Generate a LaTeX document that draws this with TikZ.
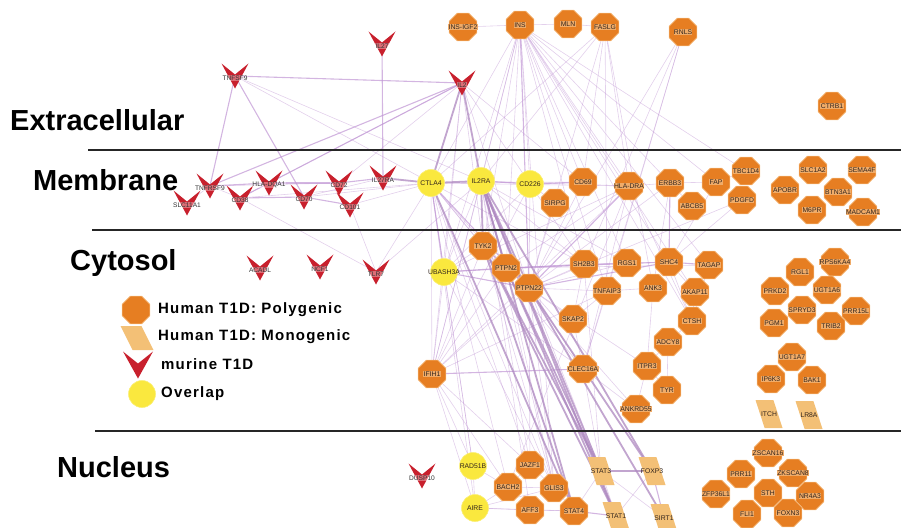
\documentclass[tikz,border=0pt]{standalone}
\usepackage{fontspec}
\newfontfamily\lblfont{Liberation Sans}
\newfontfamily\headfont{Liberation Sans}
\newfontfamily\legfont{Liberation Sans}[LetterSpace=8]
\usetikzlibrary{shapes.geometric,backgrounds}

\definecolor{polyc}{RGB}{230,126,34}
\definecolor{polyedge}{RGB}{246,190,130}
\definecolor{polylbl}{RGB}{240,172,105}
\definecolor{monoc}{RGB}{243,192,118}
\definecolor{murc}{RGB}{200,32,45}
\definecolor{ovlc}{RGB}{250,232,62}
\definecolor{lbltext}{RGB}{50,36,28}
\definecolor{edgec}{RGB}{192,150,212}

\tikzset{
  poly/.style={regular polygon,regular polygon sides=8,minimum size=30,inner sep=0,
    fill=polyc,draw=polyedge,line width=0.6pt},
  ovl/.style={circle,minimum size=27,inner sep=0,fill=ovlc,draw=ovlc!70!white,line width=0.6pt},
  mono/.style={rectangle,minimum width=27,minimum height=28,inner sep=0,
    path picture={\fill[monoc] (path picture bounding box.north west)
      -- ([xshift=4.4pt]path picture bounding box.north)
      -- (path picture bounding box.south east)
      -- ([xshift=-4.4pt]path picture bounding box.south) -- cycle;}},
  mur/.style={rectangle,minimum width=27,minimum height=25,inner sep=0,
    path picture={\fill[murc] (path picture bounding box.north west)
      -- ([yshift=1.5pt]path picture bounding box.center)
      -- (path picture bounding box.north east)
      -- (path picture bounding box.south) -- cycle;}},
  plab/.style={font=\lblfont\fontsize{6.8}{7.5}\selectfont,text=lbltext,fill=polylbl,inner sep=0.4pt},
  olab/.style={font=\lblfont\fontsize{6.8}{7.5}\selectfont,text=lbltext,inner sep=0.4pt},
  mlab/.style={font=\lblfont\fontsize{6.6}{7.5}\selectfont,text=black!80,fill=white,
    fill opacity=0.35,text opacity=1,inner sep=0.3pt,yshift=-2},
  head/.style={anchor=base west,inner sep=0,font=\headfont\fontsize{29}{32}\selectfont\bfseries},
  legtxt/.style={anchor=west,inner sep=0,font=\legfont\fontsize{15}{18}\selectfont\bfseries},
  sep/.style={line width=1.3pt,black!85},
  lnk/.style={edgec,line width=0.6pt,opacity=0.45},
  lnkb/.style={edgec,line width=1.1pt,opacity=0.7},
  lnkc/.style={edgec!90!black,line width=1.8pt,opacity=0.75}
}

\begin{document}
\begin{tikzpicture}[x=1pt,y=-1pt]
\useasboundingbox (0,0) rectangle (901,527);

% compartments
\draw[sep] (88,150) -- (901,150);
\draw[sep] (92,230) -- (901,230);
\draw[sep] (95,431) -- (901,431);
\node[head] (extra) at (10,130) {Extracellular};
\node[head] (membr) at (33,190) {Membrane};
\node[head] (cyto) at (70,270) {Cytosol};
\node[head] (nucl) at (57,477) {Nucleus};

% human T1D, polygenic
\foreach \n/\x/\y/\t in {insigf2/463/27/INS-IGF2, ins/520/25/INS, mln/568/24/MLN,
  faslg/605/27/FASLG, rnls/683/32/RNLS, ctrb1/832/106/CTRB1,
  sirpg/555/203/SIRPG, cd69/583/182/CD69, hladra/629/186/HLA-DRA, erbb3/670/183/ERBB3,
  abcb5/692/206/ABCB5, fap/716/182/FAP, tbc1d4/746/171/TBC1D4, pdgfd/742/200/PDGFD,
  apobr/785/190/APOBR, slc1a2/813/170/SLC1A2, btn3a1/838/192/BTN3A1, sema4f/862/170/SEMA4F,
  m6pr/812/210/M6PR, madcam1/863/212/MADCAM1,
  tyk2/483/246/TYK2, ptpn2/506/268/PTPN2, ptpn22/529/288/PTPN22, sh2b3/584/264/SH2B3,
  rgs1/627/263/RGS1, shc4/669/262/SHC4, tagap/709/265/TAGAP, ank3/653/288/ANK3,
  tnfaip3/607/291/TNFAIP3, akap11/695/292/AKAP11, skap2/573/319/SKAP2, ctsh/692/321/CTSH,
  adcy8/668/342/ADCY8, ifih1/432/374/IFIH1, clec16a/583/369/CLEC16A, itpr3/647/366/ITPR3,
  tyr/667/390/TYR, ankrd55/636/409/ANKRD55,
  rps6ka4/835/262/RPS6KA4, rgl1/800/272/RGL1, prkd2/775/291/PRKD2, ugt1a6/827/290/UGT1A6,
  spryd3/802/310/SPRYD3, prr15l/856/311/PRR15L, pgm1/774/323/PGM1, trib2/831/326/TRIB2,
  ugt1a7/792/357/UGT1A7, ip6k3/771/379/IP6K3, bak1/812/380/BAK1,
  jazf1/530/465/JAZF1, bach2/508/487/BACH2, glis3/554/488/GLIS3, aff3/530/510/AFF3,
  stat4/574/511/STAT4,
  zscan16/768/453/ZSCAN16, prr11/741/474/PRR11, zkscan8/793/473/ZKSCAN8, sth/768/493/STH,
  zfp36l1/716/494/ZFP36L1, nr4a3/810/496/NR4A3, fli1/747/514/FLI1, foxn3/788/513/FOXN3}
  \node[poly,label={[plab]center:\t}] (\n) at (\x,\y) {};

% human T1D, monogenic
\foreach \n/\x/\y/\t in {itch/769/414/ITCH, lr8a/809/415/LR8A, stat3/601/471/STAT3,
  foxp3/652/471/FOXP3, stat1/616/516/STAT1, sirt1/664/518/SIRT1}
  \node[mono,label={[olab]center:\t}] (\n) at (\x,\y) {};

% murine T1D
\foreach \n/\x/\y/\t in {il27/382/44/IL27, tnfsf9/235/76/TNFSF9, il2/462/83/IL2,
  tnfrsf9/210/186/TNFRSF9, slc11a1/187/203/SLC11A1, cd38/240/198/CD38,
  hladqa1/269/183/HLA-DQA1, cd70/304/197/CD70, cd72/339/183/CD72, cd101/350/205/CD101,
  il27ra/383/178/IL27RA, acadl/260/268/ACADL, ncf1/320/267/NCF1, tlr7/376/272/TLR7,
  dusp10/422/476/DUSP10}
  \node[mur,label={[mlab]center:\t}] (\n) at (\x,\y) {};

% overlap
\foreach \n/\x/\y/\t in {ctla4/431/183/CTLA4, il2ra/481/181/IL2RA, cd226/530/184/CD226,
  ubash3a/444/272/UBASH3A, rad51b/473/466/RAD51B, aire/475/508/AIRE}
  \node[ovl,label={[olab]center:\t}] (\n) at (\x,\y) {};

% legend
\node[poly] (legpoly) at (136,310) {};
\node[mono,minimum width=33,minimum height=24] (legmono) at (137,338) {};
\node[mur,minimum width=30,minimum height=27] (legmur) at (138,365) {};
\node[ovl] (legovl) at (142,394) {};
\node[legtxt] (legpolyt) at (158,310) {Human T1D: Polygenic};
\node[legtxt] (legmonot) at (158,337) {Human T1D: Monogenic};
\node[legtxt] (legmurt) at (161,364) {murine T1D};
\node[legtxt] (legovlt) at (161,394) {Overlap};

% interactions
\begin{scope}[on background layer]
\foreach \a/\b in {insigf2/ins, ins/mln, mln/faslg, tnfsf9/ctla4, tnfsf9/il2ra,
  ins/ctla4, ins/il2ra, ins/ubash3a, ins/ptpn2, ins/tyk2, ins/cd226, ins/cd69, ins/sh2b3,
  ins/rgs1, ins/shc4, ins/tagap, ins/erbb3, ins/fap, ins/tbc1d4, ins/ctsh, ins/akap11,
  ins/tnfaip3, ins/glis3, ins/ifih1, ins/hladra,
  faslg/ctla4, faslg/il2ra, faslg/cd69, faslg/ptpn22, faslg/tnfaip3, faslg/ank3, faslg/hladra,
  rnls/sh2b3, rnls/tnfaip3, rnls/ptpn22, rnls/clec16a,
  il2/hladqa1, il2/cd72, il2/cd226, il2/ubash3a, il2/tyk2, il2/ptpn22, il2/ifih1, il2/cd69,
  cd38/ctla4, cd70/ctla4, cd101/ctla4, cd38/tlr7, cd101/tlr7, tlr7/ctla4, tlr7/il2ra,
  slc11a1/tnfrsf9, tnfrsf9/cd38, hladqa1/cd38, cd70/il27ra, tnfrsf9/cd72,
  ctla4/ifih1, ctla4/tyk2, ctla4/ptpn2, ctla4/clec16a, ctla4/sh2b3, ctla4/rad51b,
  ctla4/aire, ctla4/jazf1, ctla4/bach2, ctla4/hladra, ctla4/glis3,
  il2ra/ubash3a, il2ra/ifih1, il2ra/glis3, il2ra/hladra, il2ra/jazf1, il2ra/sh2b3, il2ra/rgs1,
  cd226/ptpn22, cd226/ubash3a, cd226/sh2b3, cd226/ifih1, sirpg/cd226, sirpg/ptpn22,
  cd69/ptpn22, cd69/ctla4, hladra/ptpn2, hladra/ubash3a, hladra/ifih1, hladra/ctsh,
  hladra/erbb3, hladra/clec16a, hladra/bach2, erbb3/ptpn22, erbb3/fap, erbb3/ank3,
  erbb3/abcb5, pdgfd/shc4, pdgfd/ptpn22, fap/tbc1d4, fap/shc4,
  ubash3a/sh2b3, ubash3a/rgs1, ubash3a/ifih1, ubash3a/tyk2, ubash3a/rad51b, ubash3a/glis3,
  ubash3a/clec16a, tyk2/ptpn2, tyk2/ifih1, ptpn2/sh2b3, ptpn2/rgs1, ptpn2/tagap, ptpn2/ifih1,
  ptpn22/tnfaip3, ptpn22/sh2b3, ptpn22/rgs1, ptpn22/clec16a, ptpn22/ifih1, ptpn22/ankrd55,
  ptpn22/skap2, ptpn22/itpr3, sh2b3/rgs1, rgs1/shc4, shc4/ank3, shc4/ctsh, shc4/akap11,
  tnfaip3/ank3, tnfaip3/skap2, tnfaip3/clec16a, tnfaip3/ifih1, ank3/itpr3, itpr3/adcy8,
  adcy8/tyr, ctsh/adcy8, itpr3/ankrd55, ifih1/rad51b, ifih1/aire, ifih1/bach2, ifih1/jazf1,
  clec16a/skap2, clec16a/ankrd55, skap2/sh2b3, akap11/tagap, tagap/ctsh, akap11/ctsh,
  itpr3/tyr, stat3/stat1, stat3/sirt1, foxp3/stat1, stat4/stat3, aire/bach2, aire/stat4,
  aire/glis3, aire/aff3, rad51b/bach2, jazf1/glis3, bach2/glis3, glis3/stat4, aff3/stat4,
  jazf1/bach2, rad51b/aire, ptpn22/jazf1, ptpn22/glis3, ptpn2/glis3, tyk2/glis3,
  sh2b3/stat3, clec16a/stat3, ptpn22/stat3, il2ra/aff3}
  \draw[lnk] (\a.center) -- (\b.center);
\foreach \a/\b in {tnfsf9/il2, tnfsf9/tnfrsf9, tnfsf9/cd70, il27/il27ra, il2/tnfrsf9,
  il2/cd38, tnfrsf9/hladqa1, hladqa1/cd72, cd72/il27ra, cd38/cd70, cd70/cd101,
  il2ra/cd226, cd226/cd69, ins/ptpn22, ctla4/ubash3a, ctla4/ptpn22, hladra/ptpn22,
  erbb3/shc4, shc4/tagap, ubash3a/ptpn2, ubash3a/ptpn22, ptpn2/ptpn22, tyk2/ptpn22,
  ptpn22/shc4, ifih1/clec16a, stat4/stat1, foxp3/sirt1, ptpn2/shc4}
  \draw[lnkb] (\a.center) -- (\b.center);
\foreach \a/\b in {il2/ctla4, il2/il2ra, il27ra/ctla4, ctla4/il2ra, il2ra/ptpn2,
  il2ra/ptpn22, il2ra/tyk2, il2ra/stat3, il2ra/stat1, il2ra/stat4, il2ra/foxp3,
  tyk2/stat4, tyk2/stat3, tyk2/stat1, ptpn2/stat1, ptpn22/foxp3, stat3/foxp3,
  ctla4/stat4, ptpn2/stat3, ptpn22/sirt1}
  \draw[lnkc] (\a.center) -- (\b.center);
\end{scope}
\end{tikzpicture}
\end{document}
